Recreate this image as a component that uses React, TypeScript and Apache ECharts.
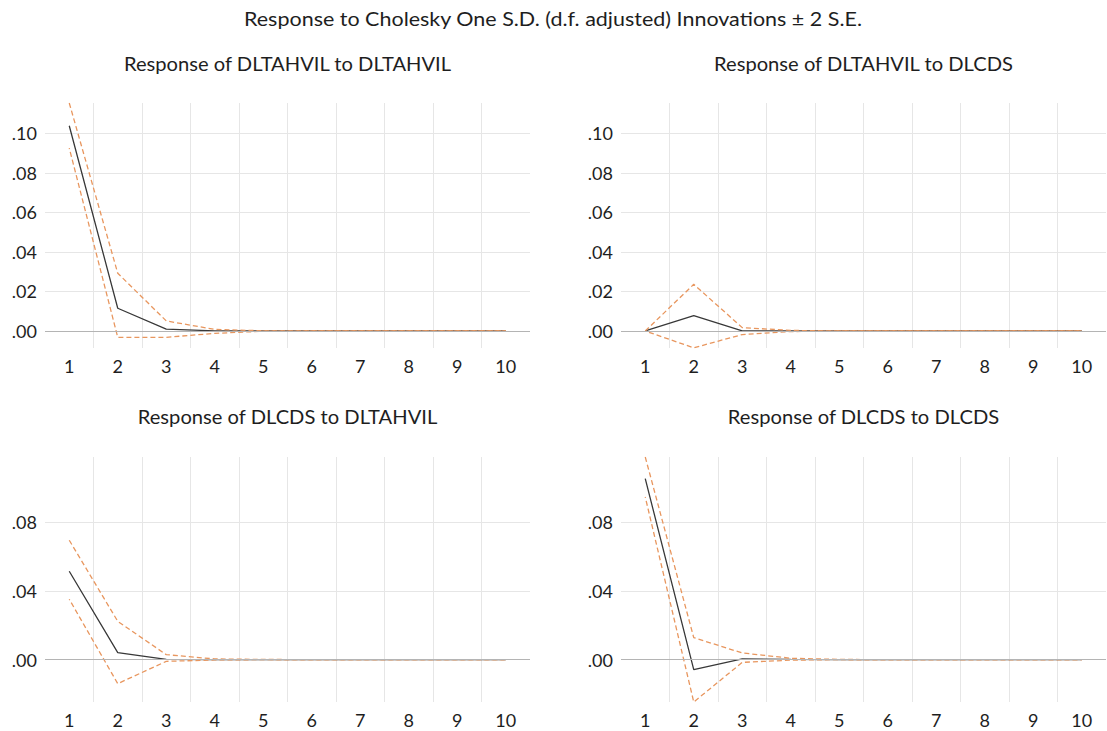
import React, { useEffect, useRef } from "react";
import * as echarts from "echarts";

const steps = ["1", "2", "3", "4", "5", "6", "7", "8", "9", "10"];

const tlResp = [0.1038, 0.0115, 0.0009, 0.0001, 0, 0, 0, 0, 0, 0];
const tlUp = [0.1153, 0.0292, 0.0051, 0.0008, 0.0001, 0, 0, 0, 0, 0];
const tlLo = [0.0925, -0.0032, -0.0032, -0.0012, -0.0001, 0, 0, 0, 0, 0];

const trResp = [0, 0.0078, 0.0001, 0, 0, 0, 0, 0, 0, 0];
const trUp = [0, 0.0236, 0.0017, 0.0003, 0, 0, 0, 0, 0, 0];
const trLo = [0, -0.0085, -0.0018, -0.0003, 0, 0, 0, 0, 0, 0];

const blResp = [0.0515, 0.0041, 0.0002, 0, 0, 0, 0, 0, 0, 0];
const blUp = [0.0696, 0.0223, 0.0029, 0.0004, 0.0001, 0, 0, 0, 0, 0];
const blLo = [0.0352, -0.014, -0.001, -0.0002, 0, 0, 0, 0, 0, 0];

const brResp = [0.1055, -0.0058, 0.0004, 0.0001, 0, 0, 0, 0, 0, 0];
const brUp = [0.1181, 0.0128, 0.0039, 0.0008, 0.0001, 0, 0, 0, 0, 0];
const brLo = [0.0948, -0.0247, -0.0016, -0.0003, 0, 0, 0, 0, 0, 0];

const mainTitle = "Response to Cholesky One S.D. (d.f. adjusted) Innovations ± 2 S.E.";
const panelTitles = [
  "Response of DLTAHVIL to DLTAHVIL",
  "Response of DLTAHVIL to DLCDS",
  "Response of DLCDS to DLTAHVIL",
  "Response of DLCDS to DLCDS",
];

const rowRanges = [
  { min: -0.0086, max: 0.1153, step: 0.02 },
  { min: -0.0247, max: 0.1181, step: 0.04 },
];

const FONT = "Lato";
const TXT = "#1e1e1e";
const ORANGE = "#e8965e";

export default function App() {
  const ref = useRef<HTMLDivElement>(null);
  useEffect(() => {
    if (!ref.current) return;
    const chart = echarts.init(ref.current, null, { renderer: "svg" });
    const panels = [
      { resp: tlResp, up: tlUp, lo: tlLo, left: 45, top: 103, row: 0 },
      { resp: trResp, up: trUp, lo: trLo, left: 621, top: 103, row: 0 },
      { resp: blResp, up: blUp, lo: blLo, left: 45, top: 457, row: 1 },
      { resp: brResp, up: brUp, lo: brLo, left: 621, top: 457, row: 1 },
    ];
    const grids = panels.map((p) => ({ left: p.left, top: p.top, width: 485, height: 245 }));
    const xAxes = panels.map((_, i) => ({
      type: "category",
      gridIndex: i,
      data: steps,
      boundaryGap: true,
      axisLine: { show: false },
      axisTick: { show: false },
      axisLabel: { interval: 0, margin: 9, color: TXT, fontFamily: FONT, fontSize: 18 },
      splitLine: {
        show: true,
        interval: 0,
        showMinLine: false,
        showMaxLine: false,
        lineStyle: { color: "#e6e6e6", width: 1 },
      },
    }));
    const yAxes = panels.map((p, i) => {
      const r = rowRanges[p.row];
      return {
        type: "value",
        gridIndex: i,
        min: r.min,
        max: r.max,
        minInterval: r.step,
        maxInterval: r.step,
        splitNumber: 5,
        axisLine: { show: false },
        axisTick: { show: false },
        axisLabel: {
          margin: 8,
          color: TXT,
          fontFamily: FONT,
          fontSize: 18,
          showMinLabel: false,
          showMaxLabel: false,
          formatter: (v: number) => {
            const s = Math.abs(v).toFixed(2).replace(/^0/, "");
            return v < 0 ? "-" + s : s;
          },
        },
        splitLine: {
          show: true,
          showMinLine: false,
          showMaxLine: false,
          lineStyle: { color: "#e6e6e6", width: 1 },
        },
      };
    });
    const series: any[] = [];
    panels.forEach((p, i) => {
      series.push({
        type: "line",
        xAxisIndex: i,
        yAxisIndex: i,
        data: p.resp,
        symbol: "none",
        lineStyle: { color: "#383838", width: 1.3 },
        markLine: {
          silent: true,
          symbol: "none",
          label: { show: false },
          lineStyle: { color: "#b4b4b4", type: "solid", width: 1 },
          data: [{ yAxis: 0 }],
        },
      });
      [p.up, p.lo].forEach((d, k) => {
        series.push({
          type: "line",
          xAxisIndex: i,
          yAxisIndex: i,
          data: d,
          symbol: "none",
          lineStyle: { color: ORANGE, width: 1.3, type: [5, 3], dashOffset: k === 0 ? 0 : 4 },
        });
      });
    });
    const centers = [
      [287.5, 64],
      [863.5, 64],
      [287.5, 417],
      [863.5, 417],
    ];
    const graphic: any[] = [
      {
        type: "text",
        x: 553,
        y: 18,
        scaleX: 1.075,
        style: {
          text: mainTitle,
          textAlign: "center",
          textVerticalAlign: "middle",
          fontFamily: FONT,
          fontSize: 20,
          fill: TXT,
        },
      },
      ...panelTitles.map((t, i) => ({
        type: "text",
        x: centers[i][0],
        y: centers[i][1],
        scaleX: 1.09,
        style: {
          text: t,
          textAlign: "center",
          textVerticalAlign: "middle",
          fontFamily: FONT,
          fontSize: 18.5,
          fill: TXT,
        },
      })),
    ];
    chart.setOption({
      animation: false,
      backgroundColor: "#ffffff",
      grid: grids,
      xAxis: xAxes,
      yAxis: yAxes,
      series,
      graphic,
    });
    return () => chart.dispose();
  }, []);
  return (
    <div
      ref={ref}
      style={{ position: "fixed", left: 0, top: 0, width: 1107, height: 731 }}
    />
  );
}
